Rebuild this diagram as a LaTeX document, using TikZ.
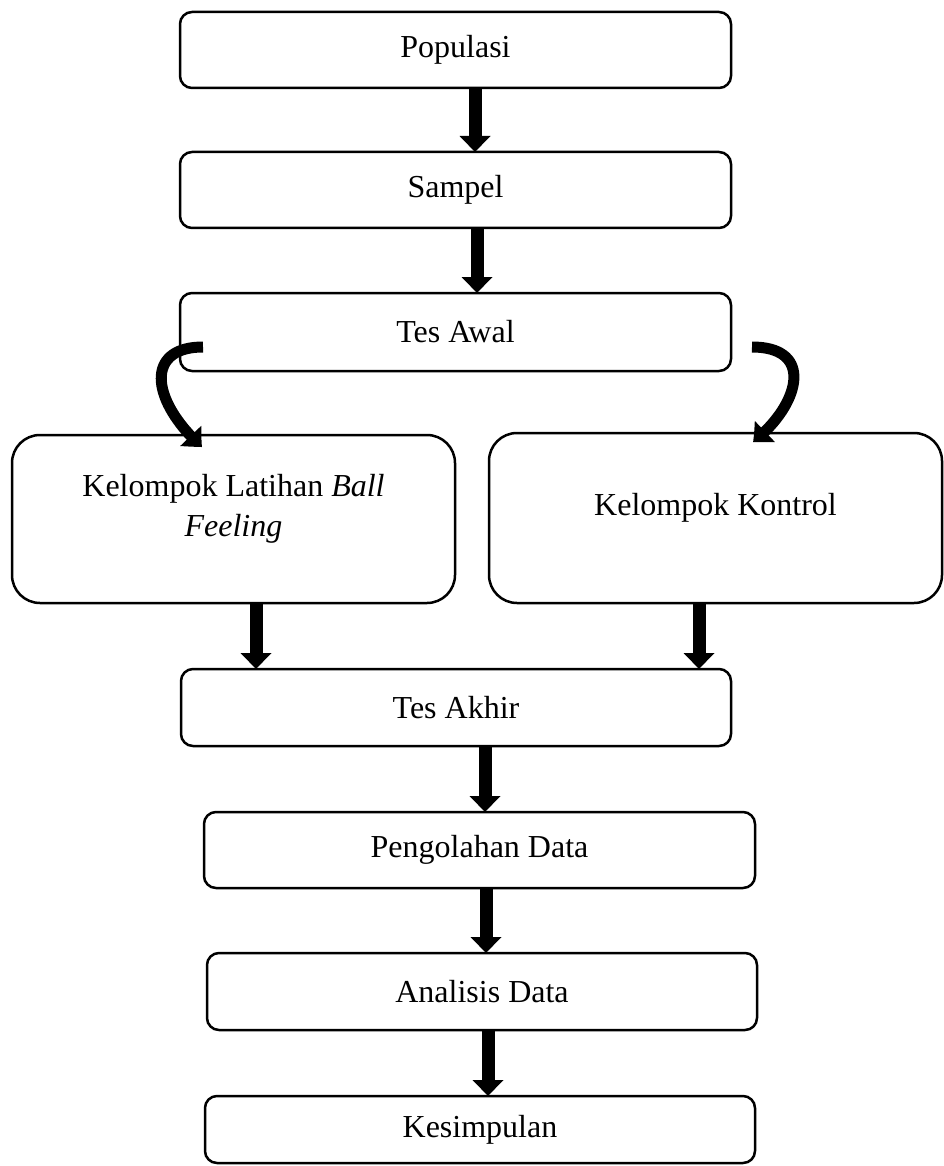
\documentclass[tikz,border=0pt]{standalone}
\usepackage{fontspec}
\setmainfont{Liberation Serif}
\usetikzlibrary{arrows.meta,bending}
\tikzset{
 box/.style={draw, line width=2.5pt, rounded corners=12pt, minimum height=76pt, inner sep=0pt, outer sep=0pt, font=\fontsize{32}{40}\selectfont, align=center},
 bigbox/.style={box, rounded corners=28pt},
 flowarrow/.style={line width=13pt, -{Triangle[length=16pt, width=30pt]}},
 curvearrow/.style={line width=11pt, -{Triangle[length=16pt, width=28pt, bend]}},
}
\begin{document}
\begin{tikzpicture}[x=1pt,y=-1pt]
\useasboundingbox (0,0) rectangle (944,1166);
\node[box, minimum width=551pt] (pop) at (455.5,50) {Populasi};
\node[box, minimum width=551pt] (sam) at (455.5,190) {Sampel};
\node[box, minimum width=551pt, minimum height=78pt] (awal) at (455.5,332) {Tes Awal};
\node[bigbox, minimum width=443pt, minimum height=168pt, text depth=27pt] (lat) at (233.5,519) {Kelompok Latihan \textit{Ball}\\\textit{Feeling}};
\node[bigbox, minimum width=453pt, minimum height=170pt, text depth=27pt] (kon) at (715.5,518) {Kelompok Kontrol};
\node[box, minimum width=550pt, minimum height=77pt] (akhir) at (456,707.5) {Tes Akhir};
\node[box, minimum width=551pt] (olah) at (479.5,850) {Pengolahan Data};
\node[box, minimum width=550pt, minimum height=77pt] (anal) at (482,991.5) {Analisis Data};
\node[box, minimum width=550pt, minimum height=67pt] (kes) at (480,1129.5) {Kesimpulan};
% arrow x positions
\coordinate (x1) at (475,0);
\coordinate (x2) at (477,0);
\coordinate (x3) at (256,0);
\coordinate (x4) at (699,0);
\coordinate (x5) at (485,0);
\coordinate (x6) at (486,0);
\coordinate (x7) at (488,0);
\draw[flowarrow] (pop.south -| x1) -- (sam.north -| x1);
\draw[flowarrow] (sam.south -| x2) -- (awal.north -| x2);
\draw[flowarrow] (lat.south -| x3) -- (akhir.north -| x3);
\draw[flowarrow] (kon.south -| x4) -- (akhir.north -| x4);
\draw[flowarrow] (akhir.south -| x5) -- (olah.north -| x5);
\draw[flowarrow] (olah.south -| x6) -- (anal.north -| x6);
\draw[flowarrow] (anal.south -| x7) -- (kes.north -| x7);
% curved arrows
\coordinate (la) at ([xshift=23pt,yshift=24pt]awal.south west);
\coordinate (lb) at ([xshift=190pt,yshift=-12pt]lat.north west);
\coordinate (ra) at ([xshift=21pt,yshift=24pt]awal.south east);
\coordinate (rb) at ([xshift=264pt,yshift=-9pt]kon.north west);
\draw[curvearrow] (la) .. controls (145,347) and (150,400) .. (lb);
\draw[curvearrow] (ra) .. controls (815,347) and (800,405) .. (rb);
\end{tikzpicture}
\end{document}
